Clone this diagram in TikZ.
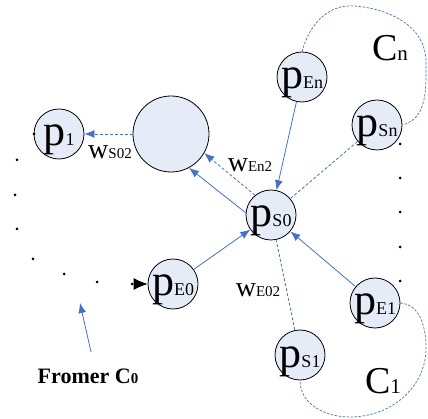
\documentclass[tikz,border=0pt]{standalone}
\usepackage{fontspec}
\setmainfont{Liberation Serif}
\usetikzlibrary{arrows.meta}
\definecolor{linkblue}{RGB}{68,114,196}
\definecolor{peerfill}{RGB}{230,236,247}
\newcommand{\peer}[1]{\makebox[0pt]{{\fontsize{44}{44}\selectfont p}{\fontsize{18}{18}\selectfont #1}}}
\newcommand{\wgt}[1]{{\fontsize{28}{28}\selectfont w}{\fontsize{15}{15}\selectfont #1}}
\newcommand{\clu}[1]{{\fontsize{38}{38}\selectfont C}{\fontsize{21}{21}\selectfont #1}}

\begin{document}
\begin{tikzpicture}[x=1pt, y=-1pt,
  peernode/.style={draw, circle, fill=peerfill, minimum size=50pt, inner sep=0pt, line width=0.8pt, text height=24pt, text depth=0pt},
  arr/.style={-{Latex[length=10pt,width=8pt]}, linkblue, line width=0.8pt},
  dasharr/.style={arr, dash pattern=on 3pt off 2pt},
  link/.style={linkblue, line width=0.8pt, dash pattern=on 3pt off 2pt},
  cluster/.style={linkblue, line width=0.7pt, dash pattern=on 2.5pt off 1.5pt},
  dot/.style={circle, fill=black, inner sep=0pt, minimum size=3pt}
]
  \useasboundingbox (0,0) rectangle (428,419);

  \node[peernode] (p1)  at ( 59,134) {\peer{1}};
  \node[draw, circle, fill=peerfill, minimum size=76pt, line width=0.8pt] (hub) at (171,134) {};
  \node[peernode] (pEn) at (302, 77) {\peer{En}};
  \node[peernode] (pSn) at (377,125) {\peer{Sn}};
  \node[peernode] (pS0) at (271,215) {\peer{S0}};
  \node[peernode] (pE0) at (173,284) {\peer{E0}};
  \node[peernode] (pE1) at (375,303) {\peer{E1}};
  \node[peernode] (pS1) at (300,355) {\peer{S1}};

  \node (wS02) at (110,152) {\wgt{S02}};
  \node (wEn2) at (250,165) {\wgt{En2}};
  \node (wE02) at (258,290) {\wgt{E02}};
  \node (Cn) at (390,48) {\clu{n}};
  \node (C1) at (383,381) {\clu{1}};
  \node (fromer) at (88,376) {\bfseries\fontsize{22}{22}\selectfont Fromer C{\fontsize{15}{15}\selectfont 0}};

  \node[dot] (d0) at (34,134) {};
  \node[dot] (d1) at (17,160) {};
  \node[dot] (d2) at (15,195) {};
  \node[dot] (d3) at (17,229) {};
  \node[dot] (d4) at (33,259) {};
  \node[dot] (d5) at (64,274) {};
  \node[dot] (d6) at (97,282) {};
  \node[dot] (d7) at (132,284) {};
  \foreach \y [count=\i] in {144,178,212,247,281}
    \node[dot] (r\i) at (400,\y) {};

  \draw[dasharr] (hub) -- (p1);
  \draw[dasharr] (pS0.129) -- (hub.-30);
  \draw[arr] (pS0.175) -- (hub.-62);
  \draw[arr] (pEn) -- (pS0);
  \draw[link] (pSn) -- (pS0);
  \draw[arr] (pE0) -- (pS0);
  \draw[arr] (pE1) -- (pS0);
  \draw[link] (pS1) -- (pS0);
  \draw[-{Latex[length=14pt,width=12pt]}, line width=0.8pt] (d7) -- (pE0);

  \coordinate (c0tail) at (91,352);
  \coordinate (c0tip) at (80,303);
  \draw[arr] (c0tail) -- (c0tip);

  \draw[cluster] (pEn.north) to[out=75,in=175] (355,6) to[out=-5,in=90] (426,62) to[out=-90,in=15] (pSn.east);
  \draw[cluster] (pE1.east) to[out=-5,in=90] (426,348) to[out=-90,in=0] (350,417) to[out=180,in=-90] (pS1.south);
\end{tikzpicture}
\end{document}
